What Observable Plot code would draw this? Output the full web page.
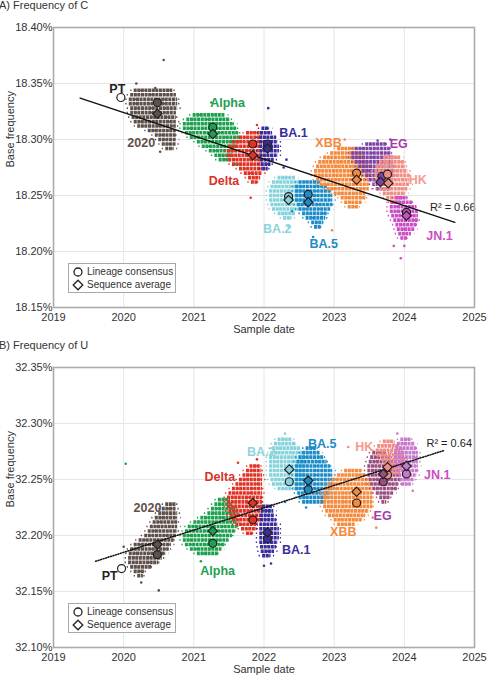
<!DOCTYPE html>
<html><head><meta charset="utf-8">
<script src="https://cdn.jsdelivr.net/npm/d3@7"></script>
<script src="https://cdn.jsdelivr.net/npm/@observablehq/plot@0.6"></script>
<style>
body{margin:0;background:#fff;font-family:"Liberation Sans",Arial,sans-serif;}
.panel{position:relative;width:489px;}
.title{font-size:11px;color:#333;line-height:11px;margin-left:-1px;}
.legend{position:absolute;background:#fff;border:1px solid #a8a8a8;box-sizing:border-box;font-size:10px;color:#333;}
.legend .it{position:absolute;left:3px;height:12px;line-height:12px;white-space:nowrap;}
.legend svg{vertical-align:top;margin-right:3px;}
</style></head><body>
<div id="A" class="panel"><div class="title" style="height:20px">A) Frequency of C</div></div>
<div id="B" class="panel"><div class="title" style="height:17px">B) Frequency of U</div></div>
<script>
const years = [2019, 2020, 2021, 2022, 2023, 2024, 2025];
const yTicksA = [18.15, 18.20, 18.25, 18.30, 18.35, 18.40];
const yTicksB = [32.10, 32.15, 32.20, 32.25, 32.30, 32.35];
const order = ["2020","Alpha","Delta","BA.1","BA.2","BA.5","XBB","EG","HK","JN.1"];

const colorsA = {"PT":"#ffffff","2020":"#5e504b","Alpha":"#1ea14f","Delta":"#e03325","BA.1":"#3b2d9b","BA.2":"#86d3dc","BA.5":"#1b8cc8","XBB":"#f5893c","EG":"#7d44a6","HK":"#f28d83","JN.1":"#c94fc2"};
const colorsB = {"PT":"#ffffff","2020":"#5e504b","Alpha":"#1ea14f","Delta":"#e03325","BA.1":"#3b2d9b","BA.2":"#86d3dc","BA.5":"#1b8cc8","XBB":"#f5893c","EG":"#9b4e80","HK":"#f28d83","JN.1":"#c77acb"};
const labelColors = {"PT":"#222222","2020":"#5e504b","Alpha":"#1ea14f","Delta":"#d8322a","BA.1":"#3b2d9b","BA.2":"#8fd3dc","BA.5":"#1b8cc8","XBB":"#f5893c","EG":"#a93aa8","HK":"#f59a90","JN.1":"#c94fc2"};

// ---- Panel A clouds: [y, x1, x2]
const cloudA_2020 = [[18.344,2020.15,2020.70],[18.340,2020.10,2020.75],[18.336,2020.08,2020.77],[18.332,2020.08,2020.77],[18.328,2020.10,2020.77],[18.324,2020.10,2020.75],[18.320,2020.12,2020.75],[18.316,2020.15,2020.75],[18.312,2020.20,2020.75],[18.308,2020.35,2020.75],[18.304,2020.45,2020.75],[18.300,2020.50,2020.75],[18.296,2020.55,2020.75],[18.292,2020.60,2020.72]];
const cloudA_Alpha = [[18.322,2020.99,2021.45],[18.318,2020.90,2021.52],[18.314,2020.85,2021.58],[18.310,2020.85,2021.62],[18.306,2020.88,2021.64],[18.302,2020.95,2021.65],[18.298,2021.05,2021.65],[18.294,2021.12,2021.62],[18.290,2021.22,2021.58],[18.286,2021.30,2021.55],[18.282,2021.36,2021.52]];
const cloudA_Delta = [[18.306,2021.75,2021.98],[18.302,2021.65,2021.98],[18.298,2021.55,2021.98],[18.294,2021.50,2021.98],[18.290,2021.48,2021.98],[18.286,2021.48,2021.98],[18.282,2021.50,2021.98],[18.278,2021.55,2021.98],[18.274,2021.65,2021.98],[18.270,2021.72,2021.98],[18.266,2021.78,2021.95],[18.262,2021.82,2021.92]];
const cloudA_BA1 = [[18.310,2021.97,2022.08],[18.306,2021.95,2022.12],[18.302,2021.94,2022.18],[18.298,2021.94,2022.20],[18.294,2021.94,2022.22],[18.290,2021.94,2022.22],[18.286,2021.94,2022.20],[18.282,2021.95,2022.15],[18.278,2021.96,2022.10],[18.274,2021.98,2022.06]];
const cloudA_BA2 = [[18.266,2022.20,2022.45],[18.262,2022.12,2022.50],[18.258,2022.10,2022.55],[18.254,2022.08,2022.55],[18.250,2022.08,2022.55],[18.246,2022.08,2022.55],[18.242,2022.10,2022.55],[18.238,2022.12,2022.50],[18.234,2022.20,2022.45],[18.230,2022.28,2022.40]];
const cloudA_BA5 = [[18.262,2022.50,2022.80],[18.258,2022.45,2022.90],[18.254,2022.45,2022.95],[18.250,2022.45,2022.98],[18.246,2022.45,2022.98],[18.242,2022.48,2022.98],[18.238,2022.50,2022.95],[18.234,2022.55,2022.90],[18.230,2022.60,2022.88],[18.226,2022.68,2022.85],[18.222,2022.72,2022.82]];
const cloudA_XBB = [[18.292,2023.05,2023.30],[18.288,2022.95,2023.40],[18.284,2022.85,2023.45],[18.280,2022.78,2023.50],[18.276,2022.75,2023.50],[18.272,2022.72,2023.50],[18.268,2022.72,2023.50],[18.264,2022.75,2023.50],[18.260,2022.80,2023.50],[18.256,2022.90,2023.50],[18.252,2023.00,2023.45],[18.248,2023.10,2023.45],[18.244,2023.15,2023.40],[18.240,2023.20,2023.35]];
const cloudA_EG = [[18.296,2023.45,2023.75],[18.292,2023.30,2023.80],[18.288,2023.25,2023.82],[18.284,2023.25,2023.85],[18.280,2023.30,2023.85],[18.276,2023.35,2023.85],[18.272,2023.40,2023.85],[18.268,2023.45,2023.85],[18.264,2023.50,2023.85],[18.260,2023.55,2023.80],[18.256,2023.60,2023.80]];
const cloudA_HK = [[18.284,2023.70,2023.95],[18.280,2023.65,2024.00],[18.276,2023.60,2024.02],[18.272,2023.58,2024.05],[18.268,2023.58,2024.08],[18.264,2023.60,2024.08],[18.260,2023.62,2024.08],[18.256,2023.65,2024.05],[18.252,2023.70,2024.02],[18.248,2023.75,2023.98],[18.244,2023.80,2023.95]];
const cloudA_JN1 = [[18.248,2023.88,2024.05],[18.244,2023.82,2024.12],[18.240,2023.80,2024.18],[18.236,2023.80,2024.20],[18.232,2023.82,2024.20],[18.228,2023.85,2024.20],[18.224,2023.88,2024.18],[18.220,2023.90,2024.15],[18.216,2023.92,2024.10],[18.212,2023.95,2024.05]];

// ---- Panel B clouds: [y, x1, x2]
const cloudB_2020 = [[32.228,2020.60,2020.75],[32.224,2020.55,2020.75],[32.220,2020.50,2020.77],[32.216,2020.45,2020.77],[32.212,2020.42,2020.77],[32.208,2020.38,2020.77],[32.204,2020.35,2020.77],[32.200,2020.30,2020.75],[32.196,2020.22,2020.72],[32.192,2020.15,2020.68],[32.188,2020.10,2020.65],[32.184,2020.08,2020.60],[32.180,2020.07,2020.55],[32.176,2020.07,2020.50],[32.172,2020.10,2020.40],[32.168,2020.15,2020.30],[32.164,2020.20,2020.28]];
const cloudB_Alpha = [[32.232,2021.35,2021.50],[32.228,2021.30,2021.55],[32.224,2021.25,2021.60],[32.220,2021.20,2021.62],[32.216,2021.10,2021.62],[32.212,2021.00,2021.62],[32.208,2020.92,2021.62],[32.204,2020.88,2021.60],[32.200,2020.85,2021.55],[32.196,2020.85,2021.50],[32.192,2020.88,2021.45],[32.188,2020.95,2021.40],[32.184,2021.05,2021.35]];
const cloudB_Delta = [[32.262,2021.80,2021.95],[32.258,2021.75,2021.97],[32.254,2021.70,2021.98],[32.250,2021.65,2021.98],[32.246,2021.60,2021.98],[32.242,2021.55,2021.98],[32.238,2021.50,2021.98],[32.234,2021.48,2021.98],[32.230,2021.48,2021.98],[32.226,2021.48,2021.98],[32.222,2021.50,2021.98],[32.218,2021.52,2021.95],[32.214,2021.55,2021.95],[32.210,2021.60,2021.92],[32.206,2021.68,2021.90],[32.202,2021.75,2021.85]];
const cloudB_BA1 = [[32.226,2021.98,2022.12],[32.222,2021.96,2022.14],[32.218,2021.95,2022.15],[32.214,2021.95,2022.18],[32.210,2021.94,2022.20],[32.206,2021.94,2022.22],[32.202,2021.94,2022.22],[32.198,2021.94,2022.22],[32.194,2021.94,2022.20],[32.190,2021.95,2022.18],[32.186,2021.96,2022.15],[32.182,2021.98,2022.10]];
const cloudB_BA2 = [[32.286,2022.20,2022.40],[32.282,2022.15,2022.45],[32.278,2022.12,2022.52],[32.274,2022.10,2022.55],[32.270,2022.08,2022.58],[32.266,2022.08,2022.60],[32.262,2022.08,2022.60],[32.258,2022.08,2022.60],[32.254,2022.08,2022.60],[32.250,2022.10,2022.60],[32.246,2022.12,2022.55],[32.242,2022.20,2022.50]];
const cloudB_BA5 = [[32.278,2022.60,2022.75],[32.274,2022.55,2022.80],[32.270,2022.50,2022.85],[32.266,2022.47,2022.90],[32.262,2022.45,2022.95],[32.258,2022.45,2022.98],[32.254,2022.45,2022.98],[32.250,2022.45,2022.98],[32.246,2022.45,2022.98],[32.242,2022.45,2022.98],[32.238,2022.48,2022.95],[32.234,2022.50,2022.90],[32.230,2022.55,2022.85]];
const cloudB_XBB = [[32.258,2023.15,2023.40],[32.254,2023.05,2023.45],[32.250,2022.98,2023.50],[32.246,2022.92,2023.52],[32.242,2022.88,2023.55],[32.238,2022.85,2023.55],[32.234,2022.85,2023.55],[32.230,2022.85,2023.55],[32.226,2022.85,2023.55],[32.222,2022.88,2023.50],[32.218,2022.92,2023.45],[32.214,2023.00,2023.40],[32.210,2023.05,2023.30]];
const cloudB_EG = [[32.274,2023.55,2023.75],[32.270,2023.52,2023.80],[32.266,2023.50,2023.85],[32.262,2023.48,2023.90],[32.258,2023.48,2023.92],[32.254,2023.48,2023.95],[32.250,2023.50,2023.95],[32.246,2023.52,2023.92],[32.242,2023.55,2023.90],[32.238,2023.60,2023.85],[32.234,2023.65,2023.80],[32.230,2023.68,2023.75]];
const cloudB_HK = [[32.284,2023.70,2023.85],[32.280,2023.62,2023.92],[32.276,2023.60,2023.98],[32.272,2023.62,2024.00],[32.268,2023.68,2024.02],[32.264,2023.72,2024.02],[32.260,2023.78,2024.00],[32.256,2023.82,2023.95]];
const cloudB_JN1 = [[32.286,2023.95,2024.10],[32.282,2023.90,2024.15],[32.278,2023.88,2024.18],[32.274,2023.86,2024.20],[32.270,2023.86,2024.20],[32.266,2023.86,2024.20],[32.262,2023.88,2024.20],[32.258,2023.90,2024.20],[32.254,2023.92,2024.18],[32.250,2023.94,2024.15],[32.246,2023.96,2024.10]];

// scattered outlying sequences: [lineage, x, y]
const outA = [["2020",2020.57,18.371],["2020",2020.18,18.350],["2020",2020.45,18.346],["2020",2020.52,18.289],["Alpha",2021.25,18.333],["Alpha",2021.6,18.278],["Delta",2021.81,18.248],["Delta",2021.9,18.313],["BA.1",2022.06,18.328],["BA.1",2022.32,18.282],["BA.1",2022.28,18.275],["BA.1",2022.25,18.306],["BA.2",2022.35,18.222],["BA.5",2022.7,18.213],["BA.5",2022.4,18.236],["XBB",2022.97,18.219],["XBB",2023.15,18.300],["EG",2023.62,18.299],["EG",2023.8,18.300],["JN.1",2023.95,18.194],["JN.1",2023.85,18.205],["JN.1",2024.0,18.205]];
const outB = [["Alpha",2020.03,32.264],["Alpha",2021.1,32.177],["Delta",2021.63,32.265],["Delta",2021.9,32.268],["2020",2020.5,32.151],["2020",2020.0,32.190],["2020",2020.25,32.158],["BA.1",2022.0,32.173],["BA.1",2022.1,32.175],["BA.5",2022.3,32.230],["BA.5",2022.6,32.225],["BA.2",2022.3,32.291],["XBB",2023.55,32.216],["XBB",2023.6,32.207],["HK",2023.2,32.279],["JN.1",2023.9,32.291],["JN.1",2024.12,32.240]];

// lineage consensus (circles) and sequence average (diamonds)
const consA = [["PT",2019.96,18.3375],["2020",2020.48,18.333],["Alpha",2021.27,18.311],["Delta",2021.84,18.296],["BA.1",2022.05,18.296],["BA.2",2022.35,18.249],["BA.5",2022.63,18.251],["XBB",2023.32,18.270],["EG",2023.68,18.267],["HK",2023.76,18.269],["JN.1",2024.03,18.235]];
const avgA = [["2020",2020.48,18.323],["Alpha",2021.27,18.305],["Delta",2021.84,18.286],["BA.1",2022.05,18.292],["BA.2",2022.35,18.246],["BA.5",2022.63,18.244],["XBB",2023.32,18.264],["EG",2023.66,18.262],["HK",2023.77,18.261],["JN.1",2024.03,18.232]];
const consB = [["PT",2019.97,32.1705],["2020",2020.48,32.183],["Alpha",2021.27,32.193],["Delta",2021.84,32.214],["BA.1",2022.05,32.197],["BA.2",2022.36,32.248],["BA.5",2022.63,32.241],["XBB",2023.32,32.229],["EG",2023.70,32.248],["HK",2023.76,32.254],["JN.1",2024.03,32.255]];
const avgB = [["2020",2020.48,32.192],["Alpha",2021.27,32.204],["Delta",2021.84,32.229],["BA.1",2022.05,32.203],["BA.2",2022.36,32.259],["BA.5",2022.63,32.249],["XBB",2023.32,32.239],["EG",2023.70,32.255],["HK",2023.76,32.261],["JN.1",2024.03,32.262]];

// lineage labels: [text, x, y]
const labelsA = [["PT",2019.91,18.3455],["2020",2020.25,18.297],["Alpha",2021.48,18.333],["Delta",2021.43,18.263],["BA.1",2022.42,18.306],["BA.2",2022.19,18.220],["BA.5",2022.85,18.207],["XBB",2022.92,18.297],["EG",2023.92,18.296],["HK",2024.19,18.264],["JN.1",2024.50,18.214]];
const labelsB = [["PT",2019.80,32.164],["2020",2020.34,32.225],["Alpha",2021.34,32.168],["Delta",2021.37,32.252],["BA.1",2022.46,32.187],["BA.2",2021.96,32.275],["BA.5",2022.83,32.282],["XBB",2023.13,32.203],["EG",2023.69,32.217],["HK",2023.43,32.279],["JN.1",2024.47,32.254]];

// linear trend endpoints and R²
const trendA = [[2019.38,18.337],[2024.72,18.226]];
const trendB = [[2019.60,32.177],[2024.57,32.276]];
const rsqA = ["R² = 0.66", 2024.69, 18.239];
const rsqB = ["R² = 0.64", 2024.64, 32.282];

const cloudsA = {"2020":cloudA_2020,"Alpha":cloudA_Alpha,"Delta":cloudA_Delta,"BA.1":cloudA_BA1,"BA.2":cloudA_BA2,"BA.5":cloudA_BA5,"XBB":cloudA_XBB,"EG":cloudA_EG,"HK":cloudA_HK,"JN.1":cloudA_JN1};
const cloudsB = {"2020":cloudB_2020,"Alpha":cloudB_Alpha,"Delta":cloudB_Delta,"BA.1":cloudB_BA1,"BA.2":cloudB_BA2,"BA.5":cloudB_BA5,"XBB":cloudB_XBB,"EG":cloudB_EG,"HK":cloudB_HK,"JN.1":cloudB_JN1};

function toRows(arr){ return arr.map(([y,x1,x2]) => ({y,x1,x2})); }
function toPts(arr){ return arr.map(([k,x,y]) => ({k,x,y})); }

function panel(cfg){
  const marks = [
    Plot.gridX(years, {stroke:"#e6e6e6", strokeOpacity:1}),
    Plot.gridY(cfg.yTicks, {stroke:"#e6e6e6", strokeOpacity:1})
  ];
  for (const k of order) {
    const rows = toRows(cfg.clouds[k]);
    marks.push(Plot.ruleY(rows, {y:"y", x1:d=>d.x1-0.05, x2:d=>d.x2+0.05, stroke:cfg.colors[k], strokeWidth:1.6, strokeDasharray:"1.3,3.5"}));
    marks.push(Plot.ruleY(rows, {y:"y", x1:"x1", x2:"x2", stroke:cfg.colors[k], strokeWidth:3.6, strokeDasharray:"3,0.6"}));
  }
  const outs = toPts(cfg.outs);
  marks.push(Plot.dot(outs, {x:"x", y:"y", r:1.3, fill:d=>cfg.colors[d.k], stroke:"none"}));
  marks.push(Plot.line(cfg.trend.map(([x,y])=>({x,y})), {x:"x", y:"y", stroke:"#111", strokeWidth:cfg.dotted?1.5:1.4, strokeDasharray:cfg.dotted?"1,1.6":null}));
  marks.push(Plot.dot(toPts(cfg.cons), {x:"x", y:"y", symbol:"circle", r:4, fill:d=>cfg.colors[d.k], stroke:"#222", strokeWidth:1.2}));
  marks.push(Plot.dot(toPts(cfg.avg), {x:"x", y:"y", symbol:"diamond2", r:4.2, fill:d=>cfg.colors[d.k], stroke:"#222", strokeWidth:1.2}));
  const labs = cfg.labels.map(([t,x,y])=>({t,x,y}));
  marks.push(Plot.text(labs, {x:"x", y:"y", text:"t", fill:d=>labelColors[d.t], fontWeight:"bold", fontSize:12.5}));
  marks.push(Plot.text([{t:cfg.rsq[0],x:cfg.rsq[1],y:cfg.rsq[2]}], {x:"x", y:"y", text:"t", fill:"#222", fontSize:11}));
  marks.push(Plot.frame({stroke:"#ababab", strokeWidth:1.6}));
  marks.push(Plot.text(["Base frequency"], {frameAnchor:"left", dx:-43, rotate:-90, fill:"#333", fontSize:11}));
  marks.push(Plot.text(["Sample date"], {frameAnchor:"bottom", dy:25, fill:"#333", fontSize:11}));
  return Plot.plot({
    width:489, height:cfg.height,
    marginLeft:53, marginRight:15, marginTop:cfg.mt, marginBottom:cfg.height-cfg.mt-280,
    style:{fontFamily:"Liberation Sans, Arial, sans-serif", fontSize:"11px", color:"#333", background:"#fff", overflow:"visible"},
    x:{domain:[2019,2025], ticks:years, tickFormat:d=>String(d), tickSize:0, tickPadding:6, label:null},
    y:{domain:[cfg.yTicks[0], cfg.yTicks[cfg.yTicks.length-1]], ticks:cfg.yTicks, tickFormat:d=>d.toFixed(2)+"%", tickSize:0, tickPadding:1, label:null},
    marks
  });
}

function legend(top){
  const div = document.createElement("div");
  div.className = "legend";
  div.style.left = "68px"; div.style.top = top+"px"; div.style.width = "108px"; div.style.height = "30px";
  div.innerHTML =
    '<div class="it" style="top:2px"><svg width="12" height="12"><circle cx="6" cy="6" r="4" fill="#fff" stroke="#222" stroke-width="1.3"/></svg>Lineage consensus</div>' +
    '<div class="it" style="top:15px"><svg width="12" height="12"><path d="M6,1.2L10.8,6L6,10.8L1.2,6Z" fill="#fff" stroke="#222" stroke-width="1.3"/></svg>Sequence average</div>';
  return div;
}

const A = document.getElementById("A");
A.appendChild(panel({height:320, mt:7, yTicks:yTicksA, clouds:cloudsA, colors:colorsA, outs:outA, trend:trendA, dotted:false, cons:consA, avg:avgA, labels:labelsA, rsq:rsqA}));
A.appendChild(legend(263));
const B = document.getElementById("B");
B.appendChild(panel({height:323, mt:10, yTicks:yTicksB, clouds:cloudsB, colors:colorsB, outs:outB, trend:trendB, dotted:true, cons:consB, avg:avgB, labels:labelsB, rsq:rsqB}));
B.appendChild(legend(263));
</script></body></html>
